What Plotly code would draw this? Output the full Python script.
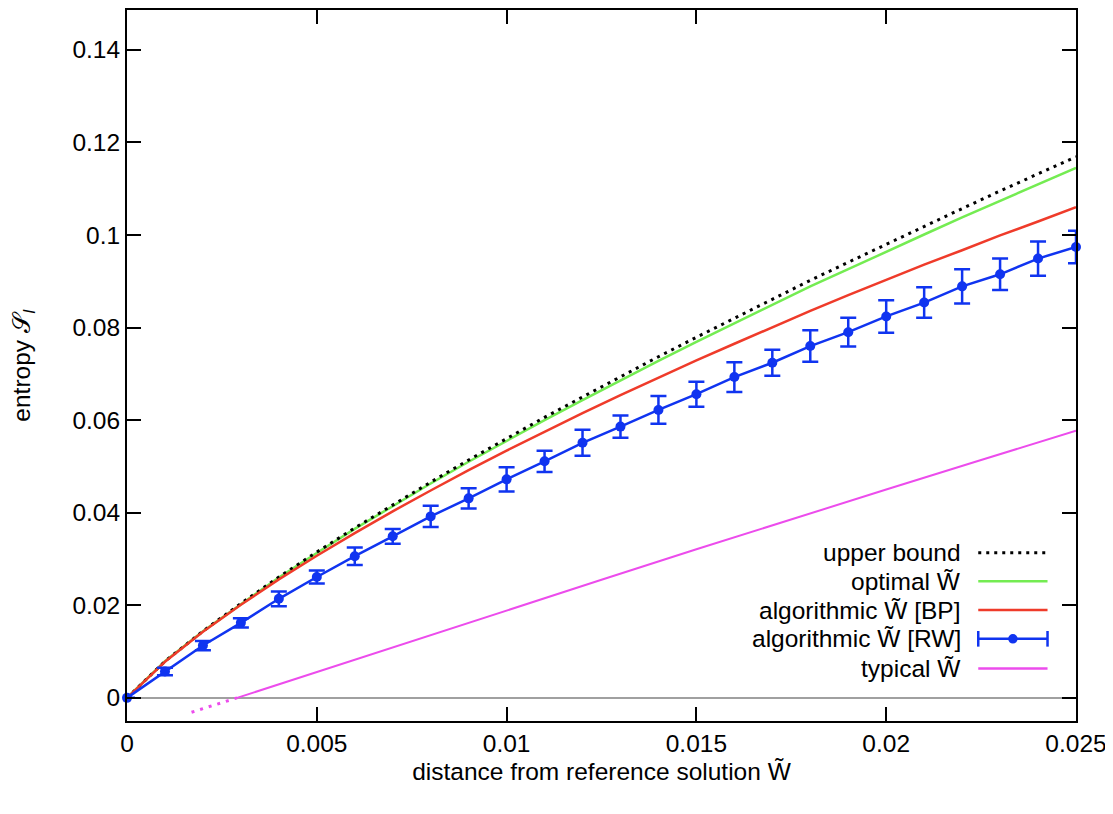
import plotly.graph_objects as go

# ---------------- data ----------------
x_curve = [0.000, 0.001, 0.002, 0.003, 0.004, 0.005, 0.006, 0.007, 0.008, 0.009,
           0.010, 0.011, 0.012, 0.013, 0.014, 0.015, 0.016, 0.017, 0.018, 0.019,
           0.020, 0.021, 0.022, 0.023, 0.024, 0.025]

upper_bound = [0.0, 0.0079, 0.0144, 0.0204, 0.0261, 0.0315, 0.0367, 0.0417, 0.0466, 0.0514,
               0.0560, 0.0606, 0.0650, 0.0694, 0.0737, 0.0779, 0.0820, 0.0861, 0.0902, 0.0941,
               0.0980, 0.1019, 0.1057, 0.1095, 0.1132, 0.1169]

optimal = [0.0, 0.0079, 0.0144, 0.0203, 0.0260, 0.0313, 0.0365, 0.0414, 0.0463, 0.0510,
           0.0555, 0.0600, 0.0643, 0.0686, 0.0728, 0.0769, 0.0809, 0.0849, 0.0889, 0.0926,
           0.0964, 0.1001, 0.1038, 0.1074, 0.1110, 0.1145]

algo_bp = [0.0, 0.0078, 0.0143, 0.0201, 0.0256, 0.0307, 0.0356, 0.0403, 0.0448, 0.0492,
           0.0534, 0.0575, 0.0615, 0.0654, 0.0692, 0.0729, 0.0765, 0.0801, 0.0836, 0.0870,
           0.0903, 0.0936, 0.0967, 0.0999, 0.1029, 0.1060]

x_rw = [0.000, 0.001, 0.002, 0.003, 0.004, 0.005, 0.006, 0.007, 0.008, 0.009,
        0.010, 0.011, 0.012, 0.013, 0.014, 0.015, 0.016, 0.017, 0.018, 0.019,
        0.020, 0.021, 0.022, 0.023, 0.024, 0.025]
algo_rw = [0.0, 0.0057, 0.0113, 0.0162, 0.0214, 0.0261, 0.0306, 0.0349, 0.0392, 0.0431,
           0.0472, 0.0511, 0.0551, 0.0586, 0.0622, 0.0656, 0.0693, 0.0724, 0.0760, 0.0790,
           0.0824, 0.0854, 0.0889, 0.0915, 0.0949, 0.0974]
algo_rw_err = [0.0, 0.0008, 0.0010, 0.0010, 0.0016, 0.0014, 0.0019, 0.0016, 0.0023, 0.0022,
               0.0026, 0.0023, 0.0028, 0.0024, 0.0030, 0.0027, 0.0032, 0.0028, 0.0034, 0.0031,
               0.0035, 0.0033, 0.0037, 0.0034, 0.0037, 0.0035]

x_typical = [0.0029, 0.005, 0.0075, 0.010, 0.0125, 0.015, 0.0175, 0.020, 0.0225, 0.025]
typical = [0.0, 0.0056, 0.0122, 0.0189, 0.0255, 0.0321, 0.0386, 0.0450, 0.0514, 0.0577]

x_typical_neg = [0.0017, 0.0029]
typical_neg = [-0.0031, 0.0]

x_ticks = [0, 0.005, 0.01, 0.015, 0.02, 0.025]
x_tick_text = ["0", "0.005", "0.01", "0.015", "0.02", "0.025"]
y_ticks = [0, 0.02, 0.04, 0.06, 0.08, 0.1, 0.12, 0.14]
y_tick_text = ["0", "0.02", "0.04", "0.06", "0.08", "0.1", "0.12", "0.14"]

legend_labels = ["upper bound", "optimal W\u0303", "algorithmic W\u0303 [BP]",
                 "algorithmic W\u0303 [RW]", "typical W\u0303"]

# ---------------- styles ----------------
C_BLACK = "#000000"
C_GREEN = "#74ec52"
C_RED = "#ef3b2a"
C_BLUE = "#1034f0"
C_MAGENTA = "#ec4cec"
FONT = "Liberation Sans, Arial, sans-serif"
FS = 24.5
DOTS = "3px,5px"

fig = go.Figure()

fig.add_trace(go.Scatter(x=x_typical_neg, y=typical_neg, mode="lines",
                         line=dict(color=C_MAGENTA, width=3, dash="3px,6px"),
                         showlegend=False, hoverinfo="skip"))
fig.add_trace(go.Scatter(x=x_typical, y=typical, mode="lines",
                         line=dict(color=C_MAGENTA, width=2), showlegend=False))
fig.add_trace(go.Scatter(x=x_curve, y=optimal, mode="lines",
                         line=dict(color=C_GREEN, width=2.5), showlegend=False))
fig.add_trace(go.Scatter(x=x_curve, y=upper_bound, mode="lines",
                         line=dict(color=C_BLACK, width=3, dash=DOTS), showlegend=False))
fig.add_trace(go.Scatter(x=x_curve, y=algo_bp, mode="lines",
                         line=dict(color=C_RED, width=2.5), showlegend=False))
fig.add_trace(go.Scatter(x=x_rw, y=algo_rw, mode="lines+markers",
                         line=dict(color=C_BLUE, width=2.5),
                         marker=dict(color=C_BLUE, size=10),
                         error_y=dict(type="data", array=algo_rw_err, visible=True,
                                      color=C_BLUE, thickness=2.5, width=8),
                         cliponaxis=False, showlegend=False))

# ---------------- hand-made legend (text left of sample, like the original) ----------------
leg_rows = [0.2368, 0.1964, 0.156, 0.1156, 0.0738]
tx = 0.881
sx0, sx1 = 0.897, 0.970
for lab, yy in zip(legend_labels, leg_rows):
    fig.add_annotation(x=tx, y=yy, xref="paper", yref="paper", text=lab, showarrow=False,
                       xanchor="right", yanchor="middle",
                       font=dict(family=FONT, size=FS, color="#000"))
styles = [dict(color=C_BLACK, width=3, dash=DOTS),
          dict(color=C_GREEN, width=2.5),
          dict(color=C_RED, width=2.5),
          dict(color=C_BLUE, width=2.5),
          dict(color=C_MAGENTA, width=2.5)]
for st, yy in zip(styles, leg_rows):
    fig.add_shape(type="line", xref="paper", yref="paper", x0=sx0, x1=sx1, y0=yy, y1=yy,
                  line=st, layer="above")
# error-bar caps and dot for RW sample
yy = leg_rows[3]
cap = 0.011
for xx in (sx0, sx1):
    fig.add_shape(type="line", xref="paper", yref="paper", x0=xx, x1=xx, y0=yy - cap, y1=yy + cap,
                  line=dict(color=C_BLUE, width=2.5), layer="above")
mx = (sx0 + sx1) / 2
fig.add_shape(type="circle", xref="paper", yref="paper",
              x0=mx - 0.005, x1=mx + 0.005, y0=yy - 0.0066, y1=yy + 0.0066,
              fillcolor=C_BLUE, line=dict(color=C_BLUE, width=0), layer="above")

fig.update_layout(
    width=1105, height=806,
    margin=dict(l=119, r=37, t=0, b=93),
    paper_bgcolor="white", plot_bgcolor="white",
    font=dict(family=FONT, size=FS, color="#000"),
    showlegend=False,
    xaxis=dict(range=[0, 0.025], tickvals=x_ticks, ticktext=x_tick_text,
               ticks="inside", ticklen=14, tickwidth=2, tickcolor="#000",
               showline=True, linecolor="#000", linewidth=2, mirror="ticks",
               showgrid=False, zeroline=False,
               title=dict(text="distance from reference solution W\u0303", standoff=6,
                          font=dict(family=FONT, size=FS))),
    yaxis=dict(range=[-0.005, 0.1486], tickvals=y_ticks, ticktext=y_tick_text,
               ticks="inside", ticklen=14, tickwidth=2, tickcolor="#000",
               showline=True, linecolor="#000", linewidth=2, mirror="ticks",
               showgrid=False, zeroline=True, zerolinecolor="#a0a0a0", zerolinewidth=2,
               title=dict(text="entropy \U0001D4AE<sub><i>I</i></sub>", standoff=38,
                          font=dict(family=FONT, size=FS))),
)

fig.write_html("out.html")
